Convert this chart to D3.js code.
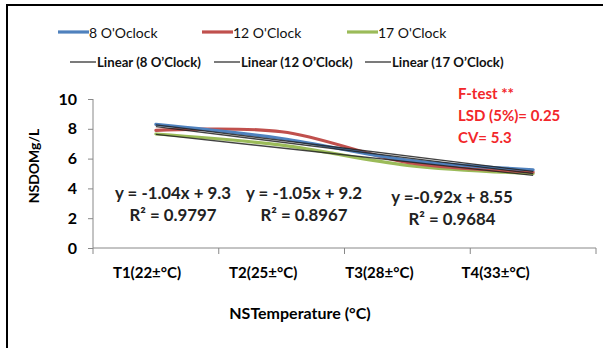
<!DOCTYPE html>
<html><head><meta charset="utf-8">
<script src="https://cdn.jsdelivr.net/npm/d3@7"></script>
<style>html,body{margin:0;padding:0;background:#fff;}svg{display:block;font-family:Lato,"Open Sans",sans-serif;}</style>
</head><body>
<script>
const categories = ["T1(22±°C)", "T2(25±°C)", "T3(28±°C)", "T4(33±°C)"];
const seriesNames = ["8 O'Oclock", "12 O'Clock", "17 O'Clock"];
const trendNames = ["Linear (8 O’Clock)", "Linear (12 O’Clock)", "Linear (17 O’Clock)"];
const values8 = [8.3, 7.35, 5.9, 5.25];
const values12 = [7.9, 7.8, 5.75, 5.1];
const values17 = [7.65, 6.9, 5.55, 5.0];
const slopes = [-1.04, -1.05, -0.92];
const intercepts = [9.3, 9.2, 8.55];
const equationLabels = ["y = -1.04x + 9.3", "y = -1.05x + 9.2", "y =-0.92x + 8.55"];
const r2Labels = ["R² = 0.9797", "R² = 0.8967", "R² = 0.9684"];
const yTicks = [0, 2, 4, 6, 8, 10];
const statLines = ["F-test **", "LSD (5%)= 0.25", "CV= 5.3"];
const colors = ["#4F81BD", "#C0504D", "#9BBB59"];

const W = 603, H = 348;
const svg = d3.select("body").append("svg").attr("width", W).attr("height", H);

// frame
svg.append("path").attr("d", `M7,${H} V5 H${W}`).attr("fill", "none").attr("stroke", "#000").attr("stroke-width", 2);

const x = d3.scaleBand().domain(categories).range([93, 596]);
const y = d3.scaleLinear().domain([0, 10]).range([248, 99]);
const xi = i => x(categories[i]) + x.bandwidth() / 2;

// axes
const yAxis = svg.append("g").attr("transform", "translate(93,0)")
  .call(d3.axisLeft(y).tickValues(yTicks).tickSize(5).tickPadding(11).tickFormat(d3.format("d")));
yAxis.select(".domain").attr("stroke", "#888").attr("d", "M0,99V248");
yAxis.selectAll(".tick line").attr("stroke", "#888");
yAxis.selectAll(".tick text").attr("font-size", 16).attr("font-weight", "bold").attr("fill", "#000").attr("font-family", "Lato");

const xAxis = svg.append("g").attr("transform", "translate(0,248)")
  .call(d3.axisBottom(x).tickSize(0).tickPadding(19));
xAxis.select(".domain").attr("stroke", "#888").attr("d", "M93,0H596");
// Excel rendered the category labels slightly left of band centres
xAxis.selectAll(".tick").attr("transform", (d, i) => `translate(${147 + i * 116.2},0)`);
xAxis.selectAll(".tick text").attr("font-size", 15).attr("font-weight", "bold").attr("fill", "#000").attr("font-family", "Lato");
const bounds = categories.map(c => x(c)).concat([x.range()[1]]);
xAxis.selectAll(".bt").data(bounds).enter().append("line")
  .attr("x1", d => d).attr("x2", d => d).attr("y1", 0).attr("y2", 6).attr("stroke", "#888");

// axis titles
svg.append("text").attr("x", 300).attr("y", 319).attr("text-anchor", "middle")
  .attr("font-size", 16).attr("font-weight", "bold").text("NSTemperature (°C)");
svg.append("text").attr("transform", "translate(39,166) rotate(-90)").attr("text-anchor", "middle")
  .attr("font-size", 14).attr("font-weight", "bold").text("NSDOMg/L");

// series
const allSeries = [values8, values12, values17];
const line = d3.line().x((d, i) => xi(i)).y(d => y(d)).curve(d3.curveCatmullRom.alpha(0.5));
[2, 1, 0].forEach(k => {
  svg.append("path").datum(allSeries[k]).attr("d", line).attr("fill", "none")
    .attr("stroke", colors[k]).attr("stroke-width", 3.2).attr("stroke-linecap", "round");
});
// trend lines
slopes.forEach((s, k) => {
  svg.append("line")
    .attr("x1", xi(0)).attr("y1", y(s * 1 + intercepts[k]))
    .attr("x2", xi(3)).attr("y2", y(s * 4 + intercepts[k]))
    .attr("stroke", "#222").attr("stroke-width", 1.3).attr("opacity", 0.85);
});

// equations
const eqX = [173, 304, 452];
const eqY = [199, 199, 203];
equationLabels.forEach((t, k) => {
  svg.append("text").attr("x", eqX[k]).attr("y", eqY[k]).attr("text-anchor", "middle")
    .attr("font-size", 16.8).attr("font-weight", "bold").attr("fill", "#222").text(t);
  svg.append("text").attr("x", eqX[k]).attr("y", eqY[k] + 22).attr("text-anchor", "middle")
    .attr("font-size", 16.8).attr("font-weight", "bold").attr("fill", "#222").text(r2Labels[k]);
});

// stats
statLines.forEach((t, i) => {
  svg.append("text").attr("x", 458).attr("y", 98.5 + i * 22)
    .attr("font-size", 15).attr("font-weight", "bold").attr("fill", "#F2262A").text(t);
});

// legend
const leg1X = [58, 202, 347];
seriesNames.forEach((n, k) => {
  svg.append("line").attr("x1", leg1X[k]).attr("x2", leg1X[k] + 31).attr("y1", 32).attr("y2", 32)
    .attr("stroke", colors[k]).attr("stroke-width", 3.2);
  svg.append("text").attr("x", leg1X[k] + 31).attr("y", 37.5).attr("font-size", 14).attr("fill", "#111").text(n);
});
const leg2X = [70, 214, 365];
trendNames.forEach((n, k) => {
  svg.append("line").attr("x1", leg2X[k]).attr("x2", leg2X[k] + 26).attr("y1", 62).attr("y2", 62)
    .attr("stroke", "#333").attr("stroke-width", 1.3);
  svg.append("text").attr("x", leg2X[k] + 27).attr("y", 66.5).attr("font-size", 13.2).attr("font-weight", "bold").attr("fill", "#111").text(n);
});
</script>
</body></html>
